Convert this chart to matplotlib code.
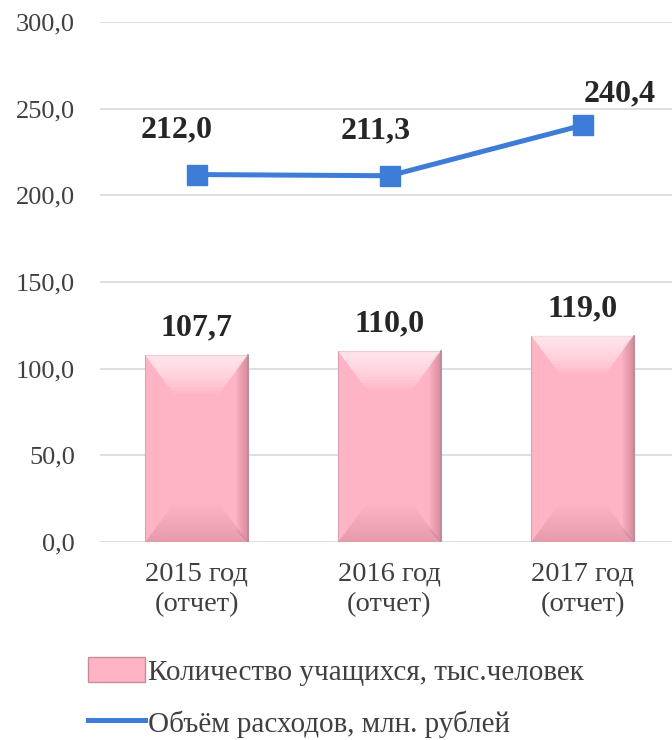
import matplotlib.pyplot as plt
from matplotlib.patches import Polygon, Patch
from matplotlib.lines import Line2D

# data
categories = ["2015 год\n(отчет)", "2016 год\n(отчет)", "2017 год\n(отчет)"]
students = [107.7, 110.0, 119.0]
expenses = [212.0, 211.3, 240.4]
yticks = [0, 50, 100, 150, 200, 250, 300]
students_name = "Количество учащихся, тыс.человек"
expenses_name = "Объём расходов, млн. рублей"

# label offsets for the line values (points), as placed in the original
line_label_offsets = [(-14, 22), (-10, 22), (27, 12)]

def fmt(v):
    return f"{v:.1f}".replace(".", ",")

plt.rcParams['font.family'] = ['Liberation Serif', 'DejaVu Serif']

W, H = 672, 740
fig = plt.figure(figsize=(W / 100, H / 100), dpi=100)
ax = fig.add_axes([100 / W, 198 / H, 579 / W, 520 / H])

x = list(range(len(categories)))
bar_w = 0.53
base = '#FFB4C5'
ax.bar(x, students, width=bar_w, color=base, edgecolor='#D8A3B0', linewidth=0.8, zorder=2)

# bevel effect: lighter top, darker bottom, shaded right edge (stacked layers = soft gradient)
ax.set_xlim(-0.5, 2.5)
ax.set_ylim(0, 300)
dx = 28 / 193
dy = 38 * 300 / 520
n = 12
for xi, h in zip(x, students):
    l, r = xi - bar_w / 2, xi + bar_w / 2
    for k in range(n):
        f = 1 - k / n
        ax.add_patch(Polygon([(l, h), (r, h), (r - dx * f, h - dy * f), (l + dx * f, h - dy * f)],
                             closed=True, color='white', alpha=0.09, lw=0, zorder=3))
        ax.add_patch(Polygon([(l, 0), (r, 0), (r - dx * f, dy * f), (l + dx * f, dy * f)],
                             closed=True, color='#B06070', alpha=0.018, lw=0, zorder=3))
        sw = 0.06 * f
        ax.add_patch(Polygon([(r, 0), (r, h), (r - sw, h - dy * f * 0.3), (r - sw, dy * f * 0.3)],
                             closed=True, color='#A05868', alpha=0.035, lw=0, zorder=3))
    ax.plot([r, r], [0, h], color='#B88A96', lw=1.2, zorder=3)
    ax.annotate(fmt(h), (xi, h), xytext=(0, 9), textcoords='offset points',
                ha='center', va='bottom', fontsize=23, fontweight='bold', color='#262626')

blue = '#3D7DD8'
ax.plot(x, expenses, color=blue, lw=3.6, marker='s', markersize=15, zorder=4)
for xi, v, (ox, oy) in zip(x, expenses, line_label_offsets):
    ax.annotate(fmt(v), (xi, v), xytext=(ox, oy), textcoords='offset points',
                ha='center', va='bottom', fontsize=23, fontweight='bold', color='#262626')

ax.set_yticks(yticks)
ax.set_yticklabels([fmt(t) for t in yticks])
ax.set_xticks(x)
ax.set_xticklabels(categories, linespacing=1.3)
ax.tick_params(axis='y', length=0, pad=18, labelsize=19, labelcolor='#404040')
ax.tick_params(axis='x', length=0, pad=14, labelsize=20.5, labelcolor='#404040')
ax.grid(axis='y', color='#D9D9D9', lw=1.2, zorder=0)
ax.set_axisbelow(True)
for s in ax.spines.values():
    s.set_visible(False)

handles = [Patch(facecolor=base, edgecolor='#C98A9A'),
           Line2D([0], [0], color=blue, lw=3.6)]
fig.legend(handles, [students_name, expenses_name], loc='upper left',
           bbox_to_anchor=(88 / W, 1 - 657 / H), frameon=False, fontsize=21,
           handlelength=1.95, handleheight=0.95, handletextpad=0.1, labelspacing=0.8,
           borderpad=0, borderaxespad=0, labelcolor='#404040')

fig.savefig("out.png", dpi=100)
